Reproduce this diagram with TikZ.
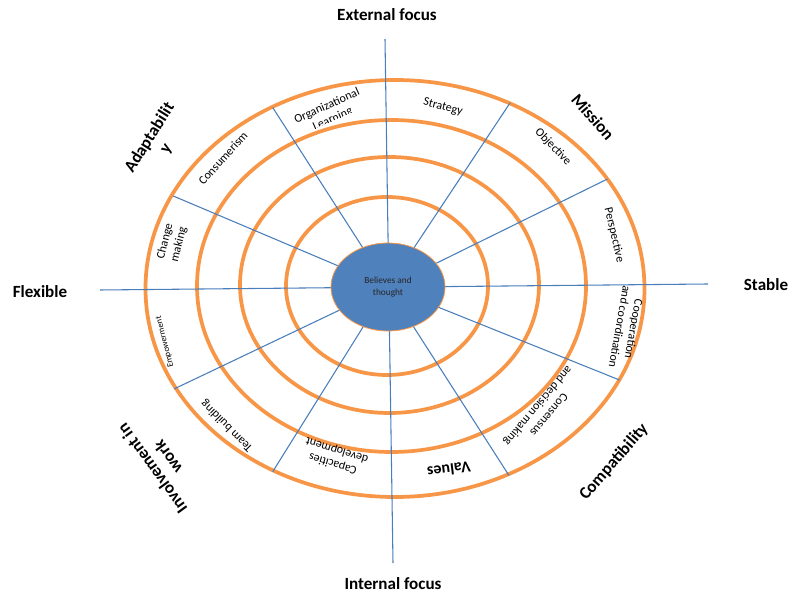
\documentclass[tikz,border=0pt]{standalone}
\usepackage{fontspec}
\setmainfont{Carlito}
\usetikzlibrary{shapes.geometric}
\definecolor{ringorange}{HTML}{F79646}
\definecolor{axisblue}{HTML}{4A7EBB}
\definecolor{corefill}{HTML}{4F81BD}
\begin{document}
\begin{tikzpicture}[x=0.75pt,y=-0.75pt,
  ring/.style={draw=ringorange,line width=2.8pt},
  spoke/.style={draw=axisblue,line width=0.8pt},
  outerlbl/.style={font=\fontsize{12.8}{14.5}\selectfont\bfseries,align=center,inner sep=0pt},
  innerlbl/.style={font=\fontsize{9}{10.6}\selectfont,align=center,inner sep=0pt},
  smalllbl/.style={font=\fontsize{6.5}{8}\selectfont,align=center,inner sep=0pt}]
\useasboundingbox (0,0) rectangle (790,595);
% label partly hidden below its cut
\begin{scope}
\clip[shift={(330,112.7)},rotate=24] (-75,-30) rectangle (75,8);
\node[innerlbl,rotate=24] (orglearn) at (330,112.7) {Organizational\\Learning};
\end{scope}
% rings
\draw[ring] (395,288.5) ellipse [x radius=249.5, y radius=208.5];
\draw[ring] (391.5,286) ellipse [x radius=194.5, y radius=166];
\draw[ring] (389.5,285) ellipse [x radius=149.5, y radius=128];
\draw[ring] (387,286) ellipse [x radius=101, y radius=89];
% spokes
\coordinate (c) at (388,287);
\coordinate (hl) at (100,290);
\coordinate (hr) at (708,284);
\coordinate (vt) at (385,39);
\coordinate (vb) at (393,563);
\coordinate (e1) at (272.7,107.5);
\coordinate (e2) at (510,103);
\coordinate (e3) at (607.5,179);
\coordinate (e4) at (619.5,380);
\coordinate (e5) at (509,475.5);
\coordinate (e6) at (272.7,471.7);
\coordinate (e7) at (174,389);
\coordinate (e8) at (173.3,196);
\draw[spoke] (hl) -- (hr);
\draw[spoke] (vt) -- (vb);
\foreach \e in {e1,e2,e3,e4,e5,e6,e7,e8} \draw[spoke] (c) -- (\e);
% core
\node[ellipse,draw=ringorange,line width=0.6pt,fill=corefill,minimum width=85.5pt,minimum height=66pt,inner sep=0pt] (core) at (c) {};
\node[font=\fontsize{7}{8.6}\selectfont,align=center,inner sep=0pt,text=black!85] (coretext) at (c) {Believes and\\thought};
% outer labels
\node[outerlbl] (ext) at (387,15) {External focus};
\node[outerlbl] (int) at (393,584) {Internal focus};
\node[outerlbl] (flex) at (40,292) {Flexible};
\node[outerlbl] (stab) at (766,285) {Stable};
\node[outerlbl,rotate=-49] (miss) at (593,117) {Mission};
\node[outerlbl,rotate=49] (comp) at (614,462) {Compatibility};
\node[outerlbl,rotate=58] (adapt) at (158,143) {Adaptabilit\\y};
\node[outerlbl,rotate=126] (invol) at (160,463) {Involvement in\\work};
% inner labels
\node[innerlbl,rotate=-15] (strat) at (443,107) {Strategy};
\node[innerlbl,rotate=-46] (obj) at (553,147) {Objective};
\node[innerlbl,rotate=-77] (persp) at (614,235) {Perspective};
\node[innerlbl,rotate=-100] (coop) at (627,328) {Cooperation\\and coordination};
\node[innerlbl,rotate=-130] (cons) at (543,410) {Consensus\\and decision making};
\node[font=\fontsize{12}{14}\selectfont\bfseries,inner sep=0pt,rotate=-173] (val) at (449,470) {Values};
\node[innerlbl,rotate=163] (capa) at (335,457) {Capacities\\development};
\node[innerlbl,rotate=135] (team) at (227,426) {Team building};
\node[smalllbl,rotate=104] (empow) at (165,342) {Empowerment};
\node[innerlbl,rotate=76] (change) at (172,243) {Change\\making};
\node[innerlbl,rotate=48] (consu) at (223,158) {Consumerism};
\end{tikzpicture}
\end{document}
